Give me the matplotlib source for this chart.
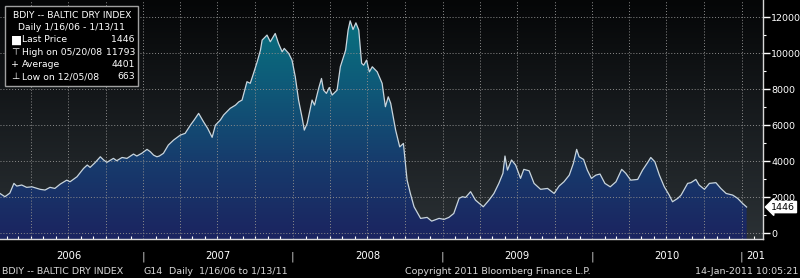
import numpy as np
import pandas as pd
import matplotlib
matplotlib.use("Agg")
import matplotlib.pyplot as plt
import matplotlib.dates as mdates
from matplotlib.colors import LinearSegmentedColormap
from matplotlib.patches import Polygon, Rectangle
import matplotlib.transforms as mtransforms

# Data -----------------------------------------------------------------------
dates = [
    "2006-01-16", "2006-01-28", "2006-02-09", "2006-02-19", "2006-02-26", "2006-03-10",
    "2006-03-22", "2006-04-04", "2006-04-24", "2006-05-06", "2006-05-18", "2006-05-30",
    "2006-06-12", "2006-06-28", "2006-07-06", "2006-07-23", "2006-08-08", "2006-08-17",
    "2006-08-24", "2006-09-05", "2006-09-18", "2006-09-26", "2006-10-04", "2006-10-20",
    "2006-10-28", "2006-11-10", "2006-11-22", "2006-12-08", "2006-12-16", "2006-12-28",
    "2007-01-10", "2007-01-18", "2007-01-26", "2007-02-03", "2007-02-09", "2007-02-19",
    "2007-03-03", "2007-03-16", "2007-04-01", "2007-04-13", "2007-04-26", "2007-05-05",
    "2007-05-16", "2007-05-28", "2007-06-07", "2007-06-18", "2007-06-26", "2007-07-08",
    "2007-07-16", "2007-08-01", "2007-08-14", "2007-08-22", "2007-08-30", "2007-09-11",
    "2007-09-19", "2007-09-27", "2007-10-06", "2007-10-14", "2007-10-18", "2007-10-30",
    "2007-11-07", "2007-11-19", "2007-11-27", "2007-12-06", "2007-12-11", "2007-12-22",
    "2007-12-30", "2008-01-07", "2008-01-15", "2008-01-24", "2008-01-29", "2008-02-05",
    "2008-02-17", "2008-02-23", "2008-03-04", "2008-03-11", "2008-03-16", "2008-03-23",
    "2008-03-30", "2008-04-06", "2008-04-18", "2008-04-26", "2008-05-09", "2008-05-15",
    "2008-05-20", "2008-05-27", "2008-06-03", "2008-06-10", "2008-06-17", "2008-06-22",
    "2008-06-29", "2008-07-06", "2008-07-13", "2008-07-25", "2008-08-06", "2008-08-14",
    "2008-08-21", "2008-08-27", "2008-09-08", "2008-09-18", "2008-09-27", "2008-10-06",
    "2008-10-14", "2008-10-23", "2008-11-08", "2008-11-24", "2008-12-05", "2008-12-23",
    "2009-01-04", "2009-01-16", "2009-01-28", "2009-02-10", "2009-02-18", "2009-02-26",
    "2009-03-10", "2009-03-22", "2009-04-10", "2009-04-24", "2009-05-06", "2009-05-18",
    "2009-05-28", "2009-06-02", "2009-06-08", "2009-06-18", "2009-06-28", "2009-07-10",
    "2009-07-18", "2009-07-31", "2009-08-12", "2009-08-28", "2009-09-14", "2009-09-30",
    "2009-10-12", "2009-10-24", "2009-11-06", "2009-11-16", "2009-11-24", "2009-11-30",
    "2009-12-11", "2009-12-20", "2009-12-30", "2010-01-10", "2010-01-20", "2010-02-01",
    "2010-02-14", "2010-02-28", "2010-03-14", "2010-03-24", "2010-04-05", "2010-04-22",
    "2010-05-04", "2010-05-16", "2010-05-24", "2010-06-03", "2010-06-14", "2010-06-26",
    "2010-07-08", "2010-07-16", "2010-07-29", "2010-08-06", "2010-08-22", "2010-08-30",
    "2010-09-11", "2010-09-19", "2010-10-02", "2010-10-14", "2010-10-30", "2010-11-11",
    "2010-11-24", "2010-12-10", "2010-12-22", "2011-01-03", "2011-01-13",
]
values = [
    2200, 2020, 2220, 2760, 2610, 2670,
    2540, 2570, 2430, 2390, 2540, 2480,
    2720, 2940, 2850, 3130, 3590, 3780,
    3650, 3910, 4240, 4060, 3930, 4150,
    4020, 4200, 4150, 4390, 4280, 4430,
    4650, 4520, 4330, 4240, 4280, 4430,
    4890, 5170, 5440, 5540, 6000, 6280,
    6650, 6180, 5820, 5320, 6000, 6280,
    6560, 6930, 7110, 7290, 7390, 8410,
    8320, 8870, 9520, 10170, 10720, 11000,
    10630, 11090, 10540, 10070, 10260, 9980,
    9610, 8680, 7390, 6370, 5720, 6090,
    7390, 7110, 8040, 8590, 7940, 7760,
    8090, 7670, 7940, 9240, 10170, 11280,
    11793, 11310, 11680, 11280, 9430, 9330,
    9610, 8960, 9240, 8960, 8320, 7020,
    7570, 7210, 5720, 4790, 4980, 2940,
    2200, 1460, 815, 870, 663, 815,
    760, 870, 1090, 1930, 2020, 1980,
    2300, 1830, 1460, 1830, 2200, 2760,
    3320, 4280, 3500, 4060, 3780, 3040,
    3540, 3460, 2760, 2430, 2480, 2200,
    2610, 2850, 3220, 3870, 4650, 4240,
    4090, 3500, 3040, 3220, 3280, 2760,
    2570, 2850, 3540, 3320, 2940, 2980,
    3500, 3910, 4200, 3960, 3220, 2570,
    2110, 1740, 1930, 2110, 2760, 2800,
    2980, 2670, 2430, 2760, 2800, 2480,
    2200, 2110, 1930, 1650, 1446,
]
year_labels = ["2006", "2007", "2008", "2009", "2010"]
legend_rows = [("Last Price", "1446"), ("High on 05/20/08", "11793"),
               ("Average", "4401"), ("Low on 12/05/08", "663")]

df = pd.DataFrame({"Date": pd.to_datetime(dates), "Value": values})

# Figure ---------------------------------------------------------------------
fig = plt.figure(figsize=(8, 2.78), dpi=100, facecolor="black")
ax = fig.add_axes([0.0, 1 - 239 / 278, 763 / 800, 239 / 278])
ax.set_facecolor("black")

x = mdates.date2num(df["Date"])
y = df["Value"].values
xmin = mdates.date2num(pd.Timestamp("2006-01-16"))
xmax = mdates.date2num(pd.Timestamp("2011-02-22"))
ymin, ymax = -330, 12950

# background gradient
bg = LinearSegmentedColormap.from_list("bg", ["#2b3135", "#181c1f", "#050607"])
ax.imshow(np.linspace(0, 1, 256).reshape(-1, 1), extent=[xmin, xmax, ymin, ymax],
          aspect="auto", origin="lower", cmap=bg, zorder=0)

# area fill gradient, clipped to the series
fill_cmap = LinearSegmentedColormap.from_list(
    "fill", ["#1b2460", "#173a6c", "#0f5878", "#08717f"])
im = ax.imshow(np.linspace(0, 1, 256).reshape(-1, 1), extent=[xmin, x[-1], ymin, 12000],
               aspect="auto", origin="lower", cmap=fill_cmap, zorder=1)
verts = np.column_stack([np.r_[x[0], x, x[-1]], np.r_[ymin, y, ymin]])
poly = Polygon(verts, closed=True, fc="none", ec="none", transform=ax.transData)
ax.add_patch(poly)
im.set_clip_path(poly)
ax.plot(x, y, color="#c9d5dd", lw=0.9, zorder=3)

ax.set_xlim(xmin, xmax)
ax.set_ylim(ymin, ymax)

# grid
grid_kw = dict(color="#8c8c8c", lw=0.7, ls=(0, (1, 2)), zorder=2)
for q in pd.date_range("2006-04-01", "2011-01-01", freq="QS"):
    ax.axvline(mdates.date2num(q), **grid_kw)
for v in range(0, 12001, 2000):
    ax.axhline(v, **grid_kw)

# axes / ticks
for s in ["top", "left"]:
    ax.spines[s].set_visible(False)
for s in ["right", "bottom"]:
    ax.spines[s].set_color("#d8d8d8")
    ax.spines[s].set_linewidth(1.0)

ax.yaxis.tick_right()
ax.set_yticks(range(0, 12001, 2000))
ax.set_yticks(range(1000, 12000, 2000), minor=True)
ax.tick_params(axis="y", which="major", colors="white", labelsize=6.8, length=5,
               width=1, pad=1)
ax.tick_params(axis="y", which="minor", colors="white", length=2, width=0.8)

ax.xaxis.set_major_locator(mdates.YearLocator())
ax.xaxis.set_major_formatter(plt.FuncFormatter(lambda v, p: "|"))
ax.xaxis.set_minor_locator(mdates.MonthLocator())
ax.tick_params(axis="x", which="major", colors="#d0d0d0", length=0, labelsize=8, pad=9)
ax.tick_params(axis="x", which="minor", colors="white", length=2, width=0.8,
               direction="in")

trans = mtransforms.blended_transform_factory(ax.transData, ax.transAxes)
for lab in year_labels:
    ax.text(mdates.date2num(pd.Timestamp(lab + "-07-02")), -0.072, lab, transform=trans,
            ha="center", va="center", color="white", fontsize=7.2)
ax.text(mdates.date2num(pd.Timestamp("2011-01-13")), -0.072, "201", transform=trans,
        ha="left", va="center", color="white", fontsize=7.2, clip_on=False)

# last price tag
ax.annotate(f"{values[-1]}", xy=(1.0, values[-1]), xycoords=("axes fraction", "data"),
            xytext=(6, 0), textcoords="offset points", ha="left", va="center",
            fontsize=6.8, color="black", annotation_clip=False,
            bbox=dict(boxstyle="larrow,pad=0.12", fc="white", ec="white"))

# legend box ------------------------------------------------------------------
def px(xp, yp):
    return xp / 800, 1 - yp / 278

fig.patches.append(Rectangle(px(5, 86), 133 / 800, 80 / 278, transform=fig.transFigure,
                             fc="black", ec="#a0a0a0", lw=1, zorder=10))
tkw = dict(color="white", fontsize=6.7, va="center", zorder=11)
fig.text(*px(72, 15.5), "BDIY -- BALTIC DRY INDEX", ha="center", **tkw)
fig.text(*px(72, 27.5), "Daily 1/16/06 - 1/13/11", ha="center", **tkw)
symbols = ["\u25a0", "\u22a4", "+", "\u22a5"]
for i, ((name, val), sym) in enumerate(zip(legend_rows, symbols)):
    yy = 40 + i * 12.3
    fig.text(*px(11, yy), sym, ha="left", **dict(tkw, fontsize=8.5 if i == 0 else 6.8))
    fig.text(*px(22, yy), name, ha="left", **tkw)
    fig.text(*px(135, yy), val, ha="right", **tkw)

# footer ------------------------------------------------------------------------
fkw = dict(color="#d8d8d8", fontsize=6.8, va="center")
fig.text(*px(2, 271), "BDIY -- BALTIC DRY INDEX", ha="left", **fkw)
fig.text(*px(143, 271), "G14", ha="left", **fkw)
fig.text(*px(169, 271), "Daily  1/16/06 to 1/13/11", ha="left", **fkw)
fig.text(*px(405, 271), "Copyright 2011 Bloomberg Finance L.P.", ha="left", **fkw)
fig.text(*px(798, 271), "14-Jan-2011 10:05:21", ha="right", **fkw)

fig.savefig("out.png", dpi=100, facecolor="black")
